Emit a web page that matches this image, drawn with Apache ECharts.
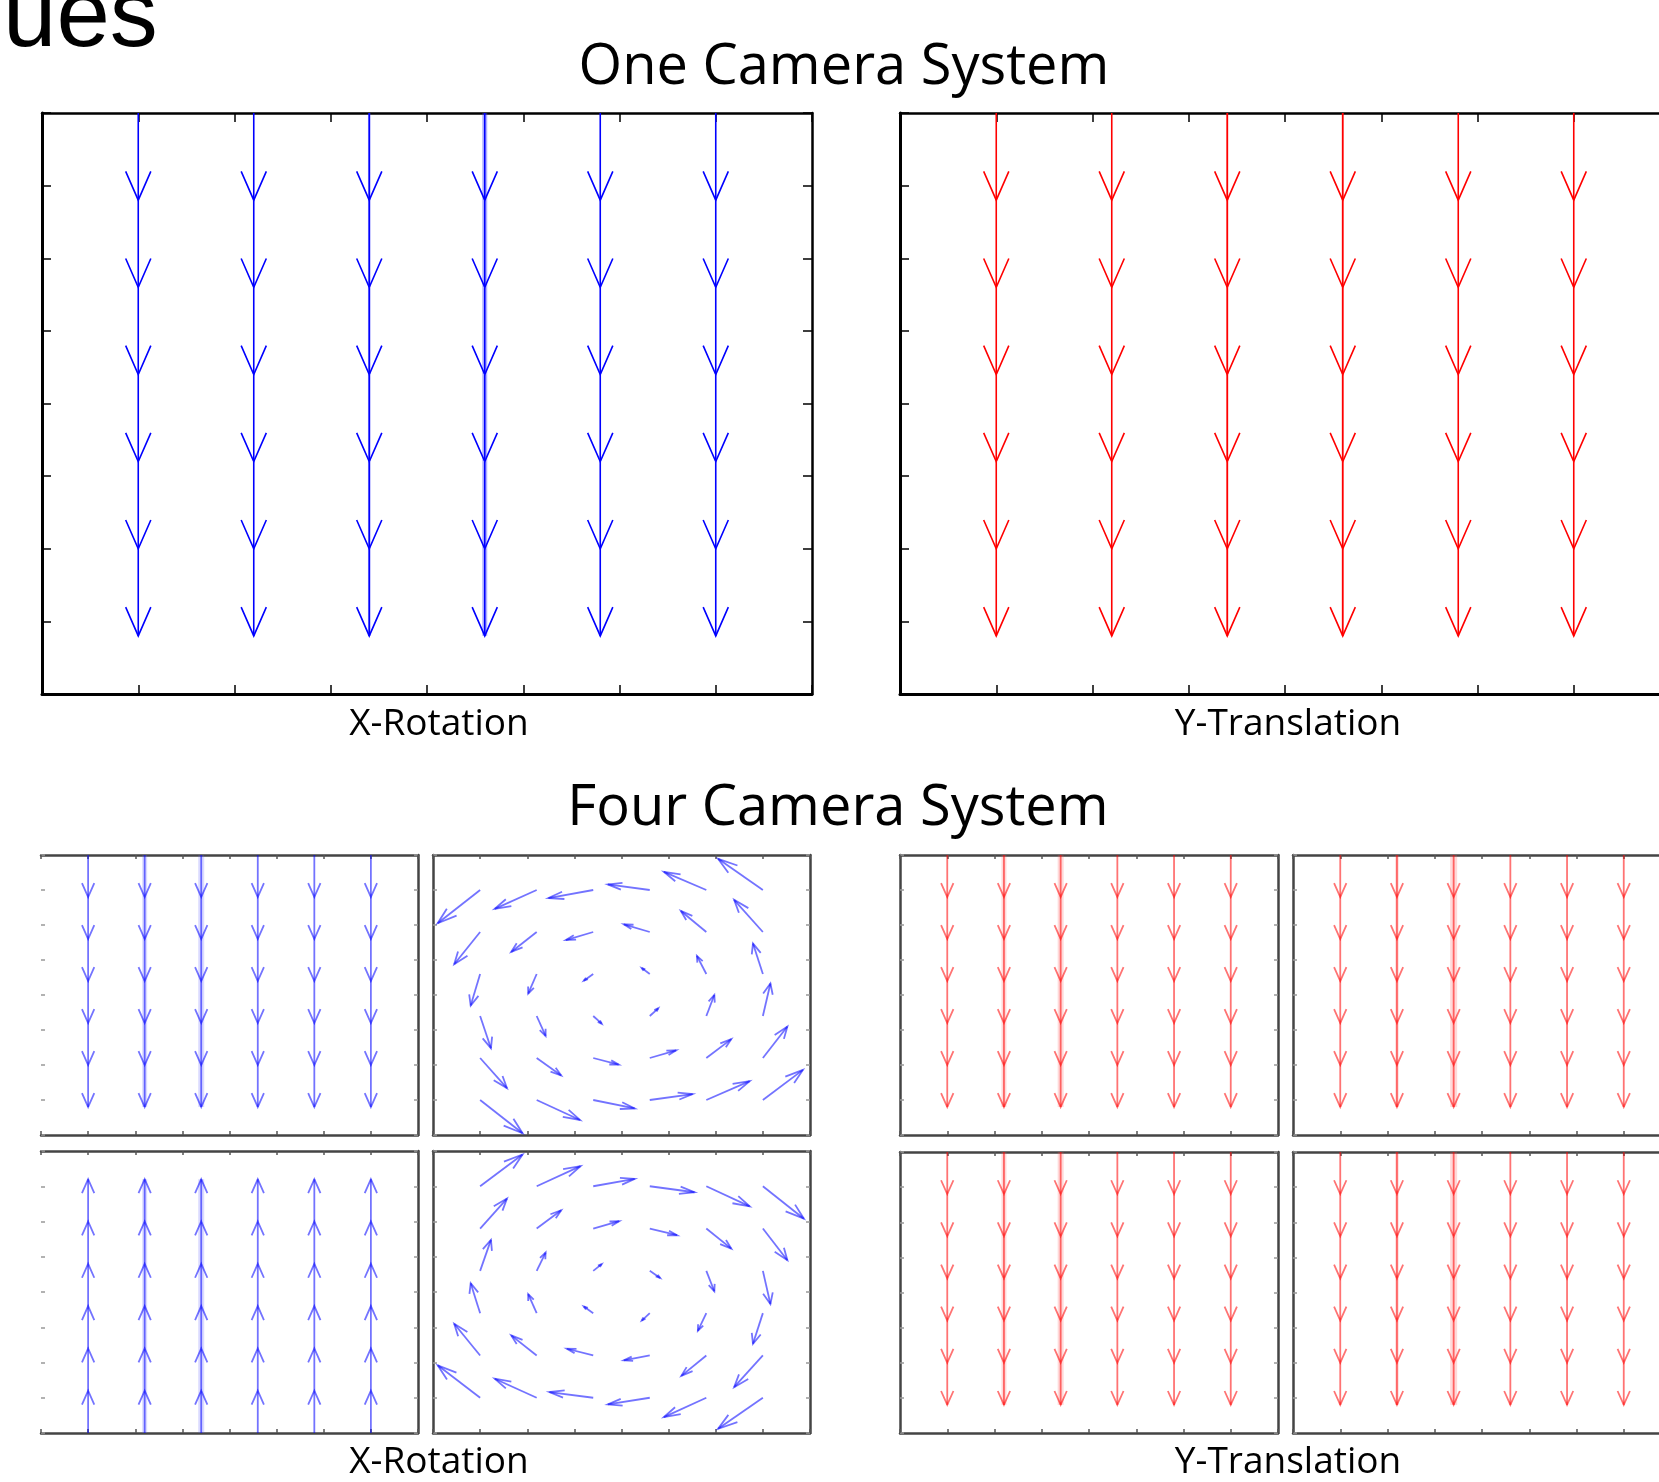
<!DOCTYPE html>
<html><head><meta charset="utf-8">
<script src="https://cdn.jsdelivr.net/npm/echarts@6/dist/echarts.min.js"></script>
<style>html,body{margin:0;padding:0;background:#fff;overflow:hidden}#c{width:1720px;height:1482px}</style>
</head><body><div id="c"></div>
<script>
// ================= DATA =================
// arrow tail columns (axis units, 0..8 axes)
const gridCols = [1, 2.2, 3.4, 4.6, 5.8, 7.0];
// arrow tail rows for rotation fields
const gridRows = [1, 2.2, 3.4, 4.6, 5.8, 7.0];
// arrow tail rows for downward arrows, and their vertical displacement
const downTailRows = [0, 1.2, 2.4, 3.6, 4.8, 6.0];
const downStep = 1.2;
// arrow tail rows for upward arrows, and their vertical displacement
const upTailRows = [2.0, 3.2, 4.4, 5.6, 6.8, 8.0];
const upStep = -1.2;
// axis range & tick spacing (no tick labels shown)
const axisMin = 0, axisMax = 8, axisStep = 1;

// rotation field, upper-right camera (rows top->bottom, cols left->right)
const rotTopU = [
  [-0.90, -0.89, -0.95, -0.89, -0.90, -0.95],
  [-0.55, -0.54, -0.58, -0.55, -0.54, -0.61],
  [-0.20, -0.18, -0.20, -0.17, -0.20, -0.21],
  [ 0.23,  0.19,  0.18,  0.18,  0.17,  0.16],
  [ 0.57,  0.52,  0.54,  0.56,  0.53,  0.52],
  [ 0.90,  0.92,  0.88,  0.91,  0.92,  0.85]
];
const rotTopV = [
  [ 0.95,  0.54,  0.23, -0.16, -0.52, -0.89],
  [ 0.92,  0.57,  0.23, -0.22, -0.60, -0.92],
  [ 0.90,  0.56,  0.19, -0.17, -0.52, -0.87],
  [ 0.92,  0.57,  0.22, -0.22, -0.60, -0.93],
  [ 0.86,  0.50,  0.19, -0.22, -0.54, -0.90],
  [ 0.95,  0.57,  0.24, -0.17, -0.54, -0.86]
];
// rotation field, lower-right camera
const rotBotU = [
  [ 0.90,  0.93,  0.88,  0.95,  0.92,  0.87],
  [ 0.57,  0.52,  0.55,  0.58,  0.53,  0.52],
  [ 0.23,  0.19,  0.18,  0.22,  0.17,  0.16],
  [-0.20, -0.18, -0.20, -0.17, -0.18, -0.21],
  [-0.55, -0.54, -0.56, -0.55, -0.53, -0.61],
  [-0.90, -0.89, -0.93, -0.89, -0.90, -0.95]
];
const rotBotV = [
  [-0.90, -0.57, -0.21,  0.17,  0.57,  0.92],
  [-0.85, -0.52, -0.21,  0.19,  0.57,  0.90],
  [-0.88, -0.52, -0.19,  0.20,  0.58,  0.94],
  [-0.85, -0.54, -0.19,  0.21,  0.50,  0.87],
  [-0.90, -0.57, -0.19,  0.14,  0.58,  0.90],
  [-0.92, -0.54, -0.16,  0.19,  0.55,  0.88]
];

const texts = {
  slide: 'ues',
  one: 'One Camera System',
  four: 'Four Camera System',
  xrot: 'X-Rotation',
  ytr: 'Y-Translation'
};

// ================= BUILD =================
function uniformField(rows, step) {
  const d = [];
  rows.forEach(y => gridCols.forEach((x, j) => d.push([x, y, 0, step, j])));
  return d;
}
function rotField(U, V) {
  const d = [];
  gridRows.forEach((y, i) => gridCols.forEach((x, j) => d.push([x, y, U[i][j], V[i][j], j])));
  return d;
}

// style-only: extra light "band" under some columns (overlaid frames in the original)
const B = 'rgba(90,90,255,0.22)', R = 'rgba(255,80,80,0.22)';
const panels = [
  {l: 42, t: 113, w: 770, h: 581, big: true, data: uniformField(downTailRows, downStep), color: '#0000ff', lw: 1.6,
   bands: {2: 2.6, 3: 5}, bandColor: 'rgba(60,60,255,0.4)'},
  {l: 900, t: 113, w: 770, h: 581, big: true, data: uniformField(downTailRows, downStep), color: '#ff0000', lw: 1.6,
   bands: {2: 2.4, 3: 2.4}, bandColor: 'rgba(255,60,60,0.35)'},
  {l: 41, t: 855, w: 377, h: 280, noLeft: true, data: uniformField(downTailRows, downStep), color: 'rgba(0,0,255,0.55)', lw: 1.8,
   bands: {1: 5, 2: 6}, bandColor: B},
  {l: 433, t: 855, w: 377, h: 280, data: rotField(rotTopU, rotTopV), color: 'rgba(0,0,255,0.55)', lw: 1.8},
  {l: 41, t: 1151, w: 377, h: 282, noLeft: true, data: uniformField(upTailRows, upStep), color: 'rgba(0,0,255,0.55)', lw: 1.8,
   bands: {1: 5, 2: 6}, bandColor: B},
  {l: 433, t: 1151, w: 377, h: 282, data: rotField(rotBotU, rotBotV), color: 'rgba(0,0,255,0.55)', lw: 1.8},
  {l: 900, t: 855, w: 378, h: 280, data: uniformField(downTailRows, downStep), color: 'rgba(255,0,0,0.55)', lw: 1.8,
   bands: {1: 5, 2: 6}, bandColor: R},
  {l: 1293, t: 855, w: 378, h: 280, data: uniformField(downTailRows, downStep), color: 'rgba(255,0,0,0.55)', lw: 1.8,
   bands: {1: 3.5, 2: 7}, bandColor: R},
  {l: 900, t: 1152, w: 378, h: 281, data: uniformField(downTailRows, downStep), color: 'rgba(255,0,0,0.55)', lw: 1.8,
   bands: {1: 5, 2: 6}, bandColor: R},
  {l: 1293, t: 1152, w: 378, h: 281, data: uniformField(downTailRows, downStep), color: 'rgba(255,0,0,0.55)', lw: 1.8,
   bands: {1: 3.5, 2: 7}, bandColor: R}
];

const grid = [], xAxis = [], yAxis = [], series = [];

function axisBase(gi, pos, lineW, lineColor, tickLen, tickColor, showLine, isY) {
  return {
    type: 'value', gridIndex: gi, position: pos,
    min: axisMin, max: axisMax, interval: axisStep,
    inverse: isY ? true : false,
    axisLine: {show: showLine, onZero: false, lineStyle: {color: lineColor, width: lineW}},
    axisTick: {show: true, inside: true, length: tickLen, lineStyle: {color: tickColor, width: 1.5}},
    axisLabel: {show: false},
    splitLine: {show: false}
  };
}

function renderArrow(p) {
  return function (params, api) {
    const x = api.value(0), y = api.value(1), u = api.value(2), v = api.value(3), col = api.value(4);
    const a = 0.33, b = 0.33;
    const p0 = api.coord([x, y]);
    const p1 = api.coord([x + u, y + v]);
    const h1 = api.coord([x + u - a * (u + b * v), y + v - a * (v - b * u)]);
    const h2 = api.coord([x + u - a * (u - b * v), y + v - a * (v + b * u)]);
    const st = {stroke: p.color, lineWidth: p.lw, fill: null};
    const children = [];
    const bw = p.bands && p.bands[col];
    if (bw) {
      children.push({type: 'polyline', shape: {points: [p0, p1]}, style: {stroke: p.bandColor, lineWidth: bw, fill: null}});
    }
    children.push({type: 'polyline', shape: {points: [p0, p1]}, style: st});
    children.push({type: 'polyline', shape: {points: [h1, p1, h2]}, style: st});
    return {type: 'group', children: children};
  };
}

panels.forEach((p, gi) => {
  grid.push({left: p.l, top: p.t, width: p.w, height: p.h, containLabel: false});
  if (p.big) {
    xAxis.push(axisBase(gi, 'bottom', 3, '#000', 9, '#000', true, false));
    xAxis.push(axisBase(gi, 'top', 2.5, '#000', 9, '#000', true, false));
    yAxis.push(axisBase(gi, 'left', 3, '#000', 9, '#000', true, true));
    yAxis.push(axisBase(gi, 'right', 2.5, '#000', 9, '#000', true, true));
  } else {
    xAxis.push(axisBase(gi, 'bottom', 2.5, '#444', 4, '#555', true, false));
    xAxis.push(axisBase(gi, 'top', 2.5, '#444', 4, '#555', true, false));
    yAxis.push(axisBase(gi, 'left', 2.5, '#444', 4, '#999', !p.noLeft, true));
    yAxis.push(axisBase(gi, 'right', 2.5, '#444', 4, '#999', true, true));
  }
  series.push({
    type: 'custom',
    xAxisIndex: gi * 2, yAxisIndex: gi * 2,
    dimensions: ['x', 'y', 'u', 'v', 'col'],
    encode: {x: 0, y: 1},
    renderItem: renderArrow(p),
    data: p.data,
    silent: true,
    clip: false
  });
});

function txt(text, x, y, font, align) {
  return {
    type: 'text', x: x, y: y, silent: true,
    style: {text: text, font: font, fill: '#000', align: align || 'center', textAlign: align || 'center',
            verticalAlign: 'middle', textVerticalAlign: 'middle'}
  };
}

const titleFont = '56px "Open Sans"';
const labelFont = '37px "Open Sans"';
const graphic = [
  txt(texts.slide, 3, 20, '96px "Liberation Sans"', 'left'),
  txt(texts.one, 844, 68, titleFont),
  txt(texts.four, 838, 809, titleFont),
  txt(texts.xrot, 439, 724, labelFont),
  txt(texts.ytr, 1288, 724, labelFont),
  txt(texts.xrot, 439, 1462, labelFont),
  txt(texts.ytr, 1288, 1462, labelFont)
];

const chart = echarts.init(document.getElementById('c'), null, {renderer: 'canvas'});
chart.setOption({
  animation: false,
  backgroundColor: '#fff',
  grid: grid, xAxis: xAxis, yAxis: yAxis, series: series,
  graphic: graphic
});
</script></body></html>
